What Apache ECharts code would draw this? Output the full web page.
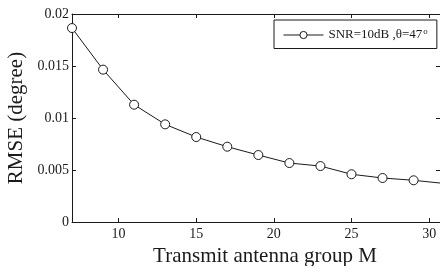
<!DOCTYPE html>
<html>
<head>
<meta charset="utf-8">
<script src="https://cdn.jsdelivr.net/npm/echarts@6/dist/echarts.min.js"></script>
<style>
  html, body { margin: 0; padding: 0; background: #fff; }
  #main { width: 440px; height: 266px; }
</style>
</head>
<body>
<div id="main"></div>
<script>
// transmit antenna group M (last point lies past the right edge, line only)
const groupM = [7, 9, 11, 13, 15, 17, 19, 21, 23, 25, 27, 29, 31];
const rmse = [0.01865, 0.01465, 0.01128, 0.00939, 0.00817, 0.00724, 0.00644,
              0.00567, 0.00538, 0.00459, 0.00423, 0.00401, 0.00370];
const xTicks = [10, 15, 20, 25, 30];
const yTicks = [0, 0.005, 0.01, 0.015, 0.02];

const font = "'Liberation Serif', 'Times New Roman', serif";
const ink = '#1a1a1a';

const chart = echarts.init(document.getElementById('main'));

const seriesData = groupM.map((m, i) => {
    const item = { value: [m, rmse[i]] };
    if (m > 30) item.symbol = 'none';
    return item;
});

const frameAxis = {
    axisLine: { show: true, onZero: false, lineStyle: { color: ink, width: 1 } },
    axisTick: { show: true, inside: true, length: 4, lineStyle: { color: ink } },
    splitLine: { show: false }
};

const option = {
    animation: false,
    backgroundColor: '#fff',
    textStyle: { fontFamily: font },
    grid: {
        left: 72, top: 14, right: 0, bottom: 44,
        containLabel: false, outerBoundsMode: 'none'
    },
    legend: {
        left: 274, top: 20,
        padding: [7, 9, 7, 9],
        itemWidth: 40, itemHeight: 9, itemGap: 4,
        borderColor: ink, borderWidth: 1, backgroundColor: '#fff',
        lineStyle: { width: 1 },
        itemStyle: { borderWidth: 1, color: '#fff', borderColor: ink },
        formatter: () => 'SNR=10dB ,θ=47{sup|o}',
        textStyle: {
            fontFamily: font, fontSize: 13, color: ink,
            rich: { sup: { fontFamily: font, fontSize: 9, color: ink, verticalAlign: 'top', padding: [0, 0, 7, 1] } }
        },
        data: ['rmse']
    },
    xAxis: [
        Object.assign({}, frameAxis, {
            type: 'value', min: 7, max: 30.7,
            axisTick: Object.assign({}, frameAxis.axisTick, { customValues: xTicks }),
            axisLabel: { customValues: xTicks, fontFamily: font, fontSize: 14, color: ink, margin: 5 },
            name: 'Transmit antenna group M',
            nameLocation: 'middle', nameGap: 19,
            nameTextStyle: { fontFamily: font, fontSize: 21, color: ink, padding: [0, 0, 0, 18] }
        }),
        Object.assign({}, frameAxis, {
            type: 'value', min: 7, max: 30.7, position: 'top',
            axisTick: Object.assign({}, frameAxis.axisTick, { customValues: xTicks }),
            axisLabel: { show: false }
        })
    ],
    yAxis: [
        Object.assign({}, frameAxis, {
            type: 'value', min: 0, max: 0.02, interval: 0.005,
            axisLabel: { fontFamily: font, fontSize: 14, color: ink, margin: 3 },
            name: 'RMSE (degree)',
            nameLocation: 'middle', nameGap: 44,
            nameTextStyle: { fontFamily: font, fontSize: 21, color: ink }
        }),
        Object.assign({}, frameAxis, {
            type: 'value', min: 0, max: 0.02, interval: 0.005, position: 'right',
            axisLabel: { show: false }
        })
    ],
    series: [{
        name: 'rmse',
        type: 'line',
        data: seriesData,
        symbol: 'circle',
        symbolSize: 9,
        clip: true,
        lineStyle: { color: ink, width: 1 },
        itemStyle: { color: '#fff', borderColor: ink, borderWidth: 1 }
    }]
};

chart.setOption(option);
</script>
</body>
</html>
